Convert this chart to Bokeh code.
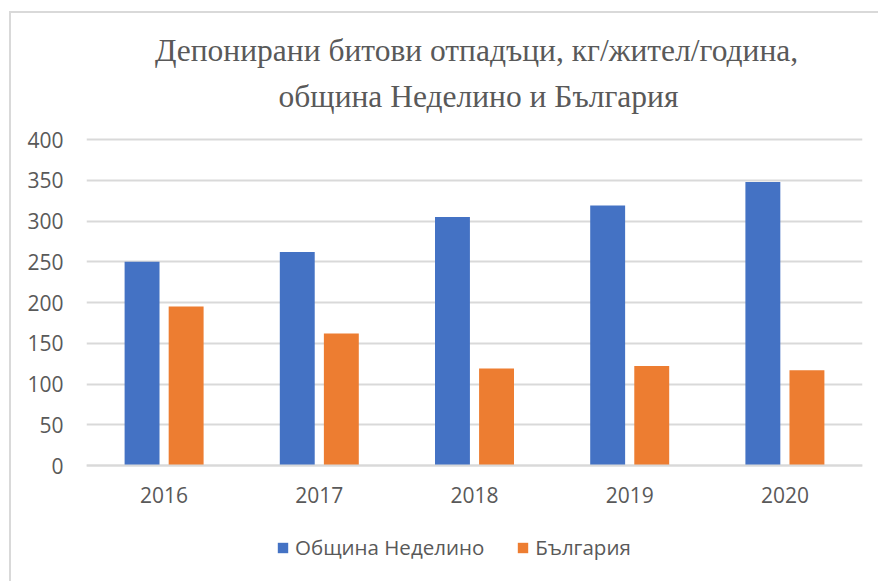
from bokeh.plotting import figure
from bokeh.models import ColumnDataSource, Range1d, Legend, LegendItem, Label, FactorRange
from bokeh.transform import dodge
from bokeh.embed import file_html
from bokeh.resources import INLINE

years = ["2016", "2017", "2018", "2019", "2020"]
nedelino = [250, 262, 305, 319, 348]
bulgaria = [195, 162, 119, 122, 117]
series_names = ["Община Неделино", "България"]
title_lines = ["Депонирани битови отпадъци, кг/жител/година,", "община Неделино и България"]
y_ticks = [0, 50, 100, 150, 200, 250, 300, 350, 400]

BLUE = "#4472C4"
ORANGE = "#ED7D31"
TXT = "#595959"
GRID = "#d9d9d9"

# layout (pixels)
W, H = 869, 570
LEFT, RIGHT = 75, 18
ZERO_PX = 452            # canvas y of value 0
PX_PER_UNIT = 326 / 400  # vertical scale
y_lo = -(H - ZERO_PX) / PX_PER_UNIT
y_hi = ZERO_PX / PX_PER_UNIT

src = ColumnDataSource(dict(year=years, ned=nedelino, bg=bulgaria))

p = figure(x_range=FactorRange(*years), y_range=Range1d(y_lo, y_hi),
           width=W, height=H, output_backend="svg", toolbar_location=None,
           min_border_left=LEFT, min_border_right=RIGHT, min_border_top=0, min_border_bottom=0,
           styles={"border-left": "2px solid #d9d9d9", "border-top": "2px solid #d9d9d9",
                   "margin-left": "9px", "margin-top": "11px"})
p.outline_line_color = None
p.background_fill_color = "white"
p.border_fill_color = "white"

r1 = p.vbar(x=dodge("year", -0.142, range=p.x_range), top="ned", width=0.225, source=src,
            fill_color=BLUE, line_color=None)
r2 = p.vbar(x=dodge("year", 0.142, range=p.x_range), top="bg", width=0.225, source=src,
            fill_color=ORANGE, line_color=None)

p.xgrid.grid_line_color = None
p.ygrid.grid_line_color = GRID
p.ygrid.grid_line_width = 2
p.yaxis.ticker = y_ticks

for ax in (p.xaxis[0], p.yaxis[0]):
    ax.major_tick_line_color = None
    ax.minor_tick_line_color = None
    ax.major_label_text_color = TXT
    ax.major_label_text_font = "Open Sans"
    ax.major_label_text_font_size = "21px"
p.yaxis.axis_line_color = None
p.yaxis.major_label_standoff = 17
p.xaxis.fixed_location = 0
p.xaxis.axis_line_color = GRID
p.xaxis.axis_line_width = 2
p.xaxis.major_label_standoff = 15
p.xaxis.group_text_font_size = "0px"

for txt, xx, yy in zip(title_lines, [390, 392], [533, 487]):
    p.add_layout(Label(x=xx, y=yy, x_units="screen", y_units="screen", text=txt,
                       text_align="center", text_baseline="alphabetic",
                       text_font="Liberation Serif", text_font_size="31.5px", text_color=TXT))

legend = Legend(items=[LegendItem(label=series_names[0], renderers=[r1]),
                       LegendItem(label=series_names[1], renderers=[r2])],
                location=(190, 22), orientation="horizontal",
                glyph_width=13, glyph_height=13, label_height=13, label_standoff=6, spacing=32,
                padding=0, margin=0, border_line_color=None, background_fill_alpha=0,
                label_text_font="Open Sans", label_text_font_size="20.5px", label_text_color=TXT)
p.add_layout(legend, "center")

open("out.html", "w").write(file_html(p, INLINE))
